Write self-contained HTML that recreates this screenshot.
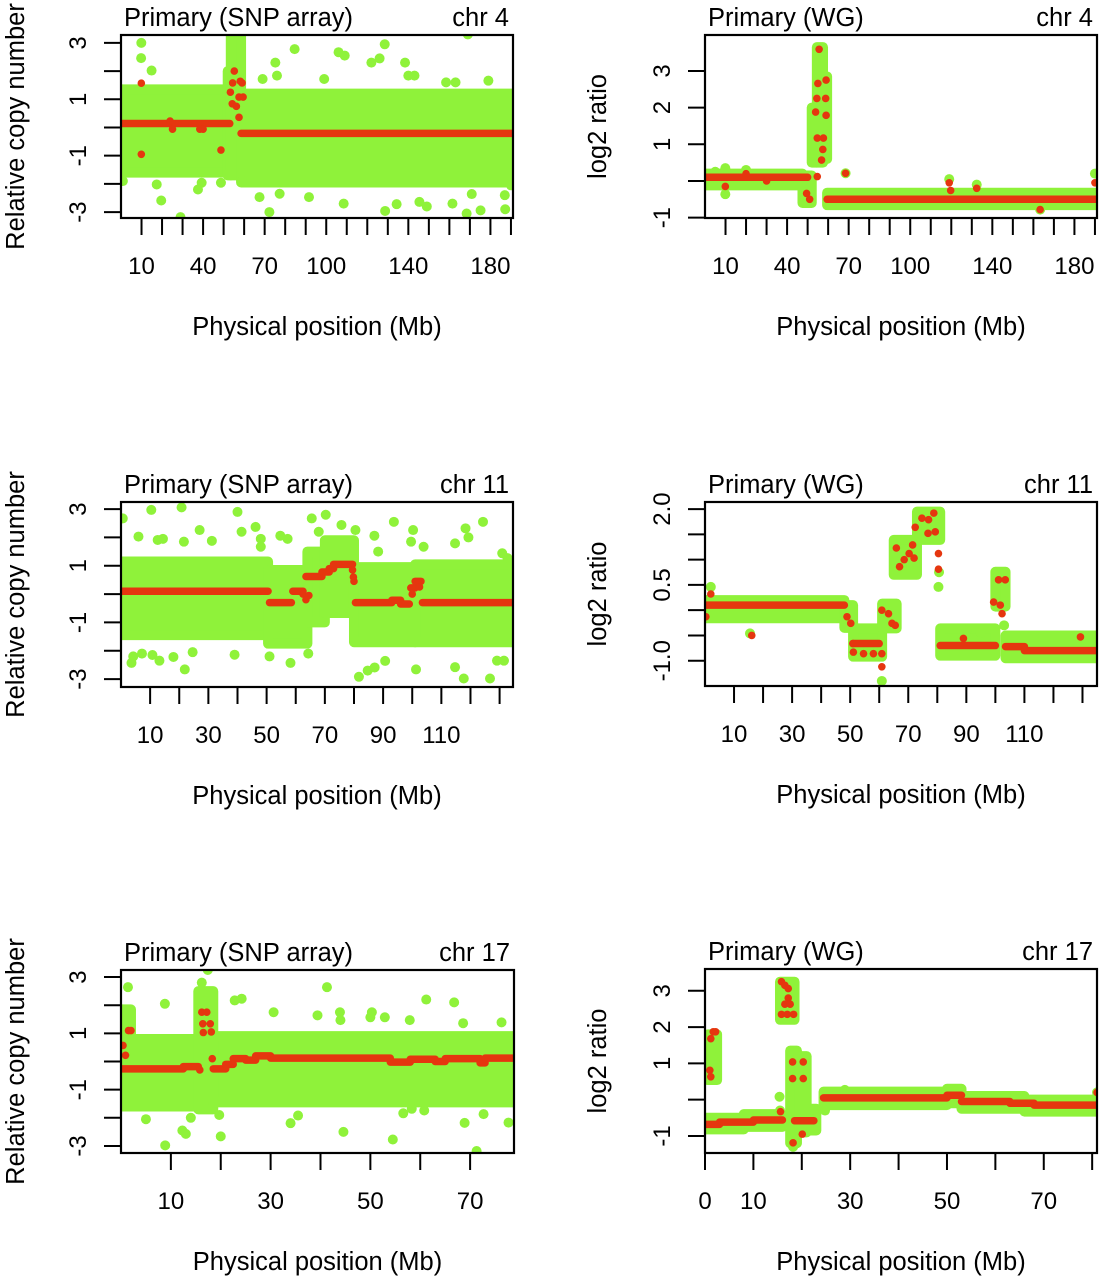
<!DOCTYPE html>
<html><head><meta charset="utf-8"><style>
html,body{margin:0;padding:0;background:#fff;}
svg{display:block;font-family:"Liberation Sans",Arial,sans-serif;}
</style></head><body>
<svg id="chart" width="1103" height="1280" viewBox="0 0 1103 1280" xmlns="http://www.w3.org/2000/svg"></svg>
<script>
// ===== Panel A: chr4 SNP array =====
const aGS=[0,52,53.5,58.5], aGE=[52,53.5,58.5,191], aGHi=[1.35,2.0,3.3,1.2], aGLo=[-1.6,-1.7,-1.7,-1.95];
const aGpX=[9.9,9.8,14.9,84.6,106,109,128.5,126,122,138.4,140,143,75.2,76,69,169,179,158.4,163,99,19.6,29,17.4,39.3,37.5,48.7,59,67.5,72.3,77.3,91.6,108.5,128.7,134.3,145.4,149,161.5,168.4,175.2,187.2,187,190,170.9,0.9];
const aGpY=[3.0,2.46,2.02,2.78,2.67,2.55,2.95,2.45,2.3,2.3,1.84,1.84,2.3,1.84,1.72,3.3,1.66,1.6,1.6,1.72,-2.59,-3.18,-2.02,-1.96,-2.2,-1.96,-1.9,-2.47,-3.0,-2.35,-2.47,-2.7,-2.96,-2.72,-2.64,-2.8,-2.7,-3.05,-2.94,-2.9,-2.4,-2.05,-2.36,-1.9];
const aRS=[0,58.5], aRE=[53,191], aRV=[0.14,-0.21];
const aRpX=[9.9,9.9,48.7,55.2,54.4,59,58.1,53.3,54.2,56.2,57.5,59.5,57.5,23.9,25.1,38.4,40];
const aRpY=[1.57,-0.95,-0.8,2.0,1.58,1.58,1.64,1.25,0.84,0.75,1.08,1.08,0.36,0.23,-0.06,-0.06,-0.06];
const aXTicks=[10,20,30,40,50,60,70,80,90,100,110,120,130,140,150,160,170,180,190];
const aXLabels=[10,40,70,100,140,180];
const aYTicks=[-3,-2,-1,0,1,2,3];
const aYLabels=[-3,-1,1,3];

// ===== Panel B: chr4 WG =====
const bGS=[0,47.5,52,54.5,57.5,59.5], bGE=[47.5,52,54.5,57.5,59.5,191];
const bGHi=[0.2,0.15,2.0,3.65,2.85,-0.32], bGLo=[-0.12,-0.6,0.5,0.5,0.6,-0.66];
const bGpX=[9.9,9.9,68.5,190,119,132.4,163.3,5,20];
const bGpY=[0.35,-0.36,0.21,0.2,0.05,-0.1,-0.78,0.25,0.3];
const bRS=[0,59.5], bRE=[50,191], bRV=[0.1,-0.5];
const bRpX=[55.6,55,59,54.5,58.8,53.9,59,54.7,57.7,57.4,56.8,54.7,49.5,51,68.5,119,119.7,132.4,163.3,190,9.9,20,30];
const bRpY=[3.59,2.66,2.75,2.25,2.25,1.88,1.79,1.17,1.17,0.86,0.57,0.12,-0.34,-0.5,0.21,-0.05,-0.26,-0.2,-0.78,-0.05,-0.15,0.2,0.0];
const bXTicks=[10,20,30,40,50,60,70,80,90,100,110,120,130,140,150,160,170,180,190];
const bXLabels=[10,40,70,100,140,180];
const bYTicks=[-1,0,1,2,3];
const bYLabels=[-1,1,2,3];

// ===== Panel C: chr11 SNP array =====
const cGS=[0,50.5,64,70,80,101], cGE=[50.5,64,70,80,101,134.6];
const cGHi=[1.15,0.85,1.5,1.9,0.95,1.05], cGLo=[-1.45,-1.75,-1.0,-0.67,-1.7,-1.7];
const cGpX=[10.4,20.8,40,0.6,27,41.4,46.2,31.2,21.6,6,12.6,14.4,48,48,54.7,57.2,65.5,70.3,67.9,75.7,80.5,87,93.7,100.3,99.6,103.9,114.7,118.3,119.3,124.3,130.9,132.7,88.3,3.6,7.2,10.8,13.2,4.2,21.9,18,24.6,39,51,58.2,64.3,81.7,84.7,87.1,90.7,101.3,114.7,117.7,126.7,129.1,131.5];
const cGpY=[2.97,3.06,2.9,2.67,2.26,2.2,2.37,1.88,1.85,2.03,1.91,1.95,1.95,1.67,2.06,1.95,2.67,2.8,2.2,2.44,2.26,2.06,2.55,2.26,1.85,1.67,1.79,2.32,2.0,2.55,1.44,1.27,1.5,-2.43,-2.1,-2.15,-2.35,-2.2,-2.66,-2.22,-2.05,-2.14,-2.2,-2.43,-2.1,-2.92,-2.7,-2.59,-2.36,-2.66,-2.58,-2.98,-2.98,-2.35,-2.35];
const cRS=[0,51,59,63.5,69,71.5,73,80.5,93,96,99.5,101,103.5];
const cRE=[50.5,58.5,62.5,69,71.5,73,79.5,93,96,99,101,103,134.6];
const cRV=[0.1,-0.3,0.1,0.62,0.78,0.9,1.05,-0.3,-0.22,-0.35,0.22,0.45,-0.3];
const cRpX=[62.5,63.5,64.5,79.5,79.8,80,100,102.5];
const cRpY=[0.0,-0.2,-0.05,0.85,0.6,0.45,0.0,0.25];
const cXTicks=[10,20,30,40,50,60,70,80,90,100,110,120,130];
const cXLabels=[10,30,50,70,90,110];
const cYTicks=[-3,-2,-1,0,1,2,3];
const cYLabels=[-3,-1,1,3];

// ===== Panel D: chr11 WG =====
const dGS=[0,48,51,61,65,73,81,100,103.5], dGE=[48,51,61,66,73,81,100,103.5,135];
const dGHi=[0.2,0.1,-0.36,0.13,1.39,1.95,-0.36,0.76,-0.5];
const dGLo=[-0.16,-0.35,-0.92,-0.36,0.7,1.39,-0.9,0.07,-0.95];
const dGpX=[2,15.5,80.4,80.6,60.9,103,129.3,90,95];
const dGpY=[0.46,-0.46,0.46,0.75,-1.4,-0.3,-0.53,-0.4,-0.45];
const dRS=[0,51,81,103.5,110], dRE=[48,60,100,110,135], dRV=[0.1,-0.66,-0.7,-0.72,-0.8];
const dRpX=[2,0.3,16.1,48.9,50.2,50.9,51.1,54.6,58,60.9,60.9,60.9,63.2,64.4,65.5,65.9,67,68.6,70.3,71.5,72,72.4,74.7,77,78.8,76.8,79.3,80.4,80.4,89,99.4,101.7,102.3,101.1,103.4,129.3];
const dRpY=[0.32,-0.13,-0.5,-0.13,-0.26,-0.66,-0.83,-0.86,-0.86,-0.86,-1.12,0,-0.07,-0.26,-0.3,1.23,0.86,1.0,1.12,1.29,1.03,1.64,1.82,1.79,1.92,1.52,1.55,1.12,0.81,-0.56,0.16,0.1,-0.07,0.6,0.6,-0.53];
const dXTicks=[10,20,30,40,50,60,70,80,90,100,110,120,130];
const dXLabels=[10,30,50,70,90,110];
const dYTicks=[-1,-0.5,0,0.5,1,1.5,2];
const dYLabels=[-1,0.5,2];

// ===== Panel E: chr17 SNP array =====
const eGS=[0,2,15.5,18.5], eGE=[2,15.5,18.5,78.8], eGHi=[1.85,0.8,2.5,0.9], eGLo=[-1.6,-1.6,-1.7,-1.45];
const eGpX=[1.4,8.8,16.2,17.4,22.8,24.2,30.6,39.4,41.3,43.9,50.3,52.9,61.2,66.8,68.6,76.3,57.9,50,44,8.86,12.3,13,20,34,35.5,44.6,54.5,56.6,58.3,60.8,68.9,71.3,72.7,77.7,5,14,19.7];
const eGpY=[2.64,2.05,2.8,3.25,2.17,2.23,1.75,1.64,2.64,1.75,1.75,1.57,2.2,2.1,1.36,1.39,1.47,1.57,1.47,-2.98,-2.45,-2.57,-2.66,-2.19,-1.92,-2.5,-2.77,-1.84,-1.68,-1.74,-2.18,-3.18,-1.87,-2.17,-2.05,-2.0,-1.9];
const eRS=[0,12.5,18.5,21,22.5,25,27,30,54,58,63,65,72,73];
const eRE=[12.5,15.5,21,22.5,25,27,30,54,58,63,65,72,73,78.8];
const eRV=[-0.26,-0.18,-0.26,-0.1,0.1,0.05,0.2,0.12,-0.02,0.08,0.0,0.1,-0.05,0.12];
const eRpX=[0.4,0.9,1.5,2,16.2,17.2,16.5,16.4,17.9,18.1,18.3,15.8];
const eRpY=[0.57,0.22,1.1,1.1,1.75,1.75,1.03,1.34,1.34,1.05,0.1,-0.3];
const eXTicks=[10,20,30,40,50,60,70];
const eXLabels=[10,30,50,70];
const eYTicks=[-3,-2,-1,0,1,2,3];
const eYLabels=[-3,-1,1,3];

// ===== Panel F: chr17 WG =====
const fGS=[0,8,0.6,15.5,17.6,19.5,21,24.5,50,53,66];
const fGE=[8,16,2.5,18.5,19,21,23,50,53,66,81];
const fGHi=[-0.5,-0.4,1.8,3.25,1.35,1.2,-0.25,0.22,0.3,0.1,0.0];
const fGLo=[-0.82,-0.75,0.54,2.2,-1.2,-0.9,-0.85,-0.15,-0.1,-0.25,-0.33];
const fGpX=[15.4,24.8,28.9,1.2,18.2,15.5,81];
const fGpY=[0.08,-0.3,0.27,1.35,-1.3,-0.3,0.2];
const fRS=[0,3,10,18.5,24.5,50,53,63,68], fRE=[3,10,16,22.5,50,53,63,68,81];
const fRV=[-0.68,-0.62,-0.56,-0.58,0.05,0.12,-0.05,-0.1,-0.15];
const fRpX=[1.2,1,1.2,1.7,2.2,15.8,16.5,17.2,17.2,16.5,17.6,15.8,18.3,17,18.1,18.1,20.3,20.3,18.2,20.1,15.6,81];
const fRpY=[0.63,0.81,1.68,1.87,1.87,3.25,3.15,3.06,2.8,2.63,2.63,2.35,2.35,2.35,1.04,0.58,1.04,0.58,-1.19,-0.95,-0.33,0.2];
const fXTicks=[0,10,20,30,40,50,60,70,80];
const fXLabels=[0,10,30,50,70];
const fYTicks=[-1,0,1,2,3];
const fYLabels=[-1,1,2,3];

const GREEN='#8ff23a', RED='#e5360f';
const svg=document.getElementById('chart');
const NS='http://www.w3.org/2000/svg';
function mk(tag,attrs,parent){const e=document.createElementNS(NS,tag);for(const k in attrs)e.setAttribute(k,attrs[k]);(parent||svg).appendChild(e);return e;}

const panels=[
 {id:'a',x0:121,x1:513,y0:35,y1:218,xmin:0,xmax:191,ymin:-3.21,ymax:3.28,title:'Primary (SNP array)',chr:'chr 4',ytitle:'Relative copy number',
  gS:aGS,gE:aGE,gHi:aGHi,gLo:aGLo,gpX:aGpX,gpY:aGpY,rS:aRS,rE:aRE,rV:aRV,rpX:aRpX,rpY:aRpY,xt:aXTicks,xl:aXLabels,yt:aYTicks,yl:aYLabels},
 {id:'b',x0:705,x1:1097,y0:35,y1:218,xmin:0,xmax:191,ymin:-1.01,ymax:3.98,title:'Primary (WG)',chr:'chr 4',ytitle:'log2 ratio',
  gS:bGS,gE:bGE,gHi:bGHi,gLo:bGLo,gpX:bGpX,gpY:bGpY,rS:bRS,rE:bRE,rV:bRV,rpX:bRpX,rpY:bRpY,xt:bXTicks,xl:bXLabels,yt:bYTicks,yl:bYLabels},
 {id:'c',x0:121,x1:513,y0:502,y1:687,xmin:0,xmax:134.6,ymin:-3.28,ymax:3.25,title:'Primary (SNP array)',chr:'chr 11',ytitle:'Relative copy number',
  gS:cGS,gE:cGE,gHi:cGHi,gLo:cGLo,gpX:cGpX,gpY:cGpY,rS:cRS,rE:cRE,rV:cRV,rpX:cRpX,rpY:cRpY,xt:cXTicks,xl:cXLabels,yt:cYTicks,yl:cYLabels},
 {id:'d',x0:705,x1:1097,y0:502,y1:686,xmin:0,xmax:135,ymin:-1.5,ymax:2.14,title:'Primary (WG)',chr:'chr 11',ytitle:'log2 ratio',fmt:1,
  gS:dGS,gE:dGE,gHi:dGHi,gLo:dGLo,gpX:dGpX,gpY:dGpY,rS:dRS,rE:dRE,rV:dRV,rpX:dRpX,rpY:dRpY,xt:dXTicks,xl:dXLabels,yt:dYTicks,yl:dYLabels},
 {id:'e',x0:121,x1:514,y0:970,y1:1153,xmin:0,xmax:78.8,ymin:-3.25,ymax:3.25,title:'Primary (SNP array)',chr:'chr 17',ytitle:'Relative copy number',
  gS:eGS,gE:eGE,gHi:eGHi,gLo:eGLo,gpX:eGpX,gpY:eGpY,rS:eRS,rE:eRE,rV:eRV,rpX:eRpX,rpY:eRpY,xt:eXTicks,xl:eXLabels,yt:eYTicks,yl:eYLabels},
 {id:'f',x0:705,x1:1097,y0:969,y1:1153,xmin:0,xmax:81,ymin:-1.47,ymax:3.6,title:'Primary (WG)',chr:'chr 17',ytitle:'log2 ratio',
  gS:fGS,gE:fGE,gHi:fGHi,gLo:fGLo,gpX:fGpX,gpY:fGpY,rS:fRS,rE:fRE,rV:fRV,rpX:fRpX,rpY:fRpY,xt:fXTicks,xl:fXLabels,yt:fYTicks,yl:fYLabels},
];

panels.forEach(p=>{
  const sx=v=>p.x0+(v-p.xmin)/(p.xmax-p.xmin)*(p.x1-p.x0);
  const sy=v=>p.y1-(v-p.ymin)/(p.ymax-p.ymin)*(p.y1-p.y0);
  const g=mk('g',{});
  
  
  const defs=mk('defs',{},g);
  const cp=mk('clipPath',{id:'clip-'+p.id},defs);
  mk('rect',{x:p.x0,y:p.y0,width:p.x1-p.x0,height:p.y1-p.y0},cp);
  const plot=mk('g',{'clip-path':'url(#clip-'+p.id+')'},g);
  
  
  for(let i=0;i<p.gS.length;i++){
    const x=sx(p.gS[i]), w=sx(p.gE[i])-x, y=sy(p.gHi[i]), h=sy(p.gLo[i])-y;
    const r=mk('rect',{x:x,y:y,width:w,height:h,fill:GREEN,stroke:GREEN,'stroke-width':10,'stroke-linejoin':'round'},plot);
    
    
  }
  for(let i=0;i<p.gpX.length;i++){
    const c=mk('circle',{cx:sx(p.gpX[i]),cy:sy(p.gpY[i]),r:5,fill:GREEN},plot);
    
    
  }
  for(let i=0;i<p.rS.length;i++){
    const l=mk('line',{x1:sx(p.rS[i]),x2:sx(p.rE[i]),y1:sy(p.rV[i]),y2:sy(p.rV[i]),stroke:RED,'stroke-width':7.5,'stroke-linecap':'round'},plot);
    
    
  }
  for(let i=0;i<p.rpX.length;i++){
    const c=mk('circle',{cx:sx(p.rpX[i]),cy:sy(p.rpY[i]),r:3.8,fill:RED},plot);
    
    
  }
  const box=mk('rect',{x:p.x0,y:p.y0,width:p.x1-p.x0,height:p.y1-p.y0,fill:'none',stroke:'#000','stroke-width':2.2},g);
  
  
  p.xt.forEach(v=>{
    const t=mk('line',{x1:sx(v),x2:sx(v),y1:p.y1,y2:p.y1+17,stroke:'#000','stroke-width':2},g);
    
    
  });
  p.xl.forEach(v=>{
    const t=mk('text',{x:sx(v),y:p.y1+56,'text-anchor':'middle','font-size':24,fill:'#000'},g);
    t.textContent=String(v);
    
    
  });
  p.yt.forEach(v=>{
    const t=mk('line',{x1:p.x0-17,x2:p.x0,y1:sy(v),y2:sy(v),stroke:'#000','stroke-width':2},g);
    
    
  });
  p.yl.forEach(v=>{
    const tx=p.x0-35, ty=sy(v);
    const t=mk('text',{x:tx,y:ty,'text-anchor':'middle','font-size':24,fill:'#000',transform:'rotate(-90 '+tx+' '+ty+')'},g);
    t.textContent=p.fmt?v.toFixed(1):String(v);
    
    
  });
  const tl=mk('text',{x:p.x0+3,y:p.y0-9,'font-size':25.5,fill:'#000'},g);
  tl.textContent=p.title;
  
  
  const ch=mk('text',{x:p.x1-4,y:p.y0-9,'font-size':25.5,'text-anchor':'end',fill:'#000'},g);
  ch.textContent=p.chr;
  
  
  const xt=mk('text',{x:(p.x0+p.x1)/2,y:p.y1+117,'font-size':25.5,'text-anchor':'middle',fill:'#000'},g);
  xt.textContent='Physical position (Mb)';
  
  
  const yx=(p.x0<300)?24:606, yy=(p.y0+p.y1)/2;
  const yt=mk('text',{x:yx,y:yy,'font-size':25.5,'text-anchor':'middle',fill:'#000',transform:'rotate(-90 '+yx+' '+yy+')'},g);
  yt.textContent=p.ytitle;
  
  
});
</script>
</body></html>
